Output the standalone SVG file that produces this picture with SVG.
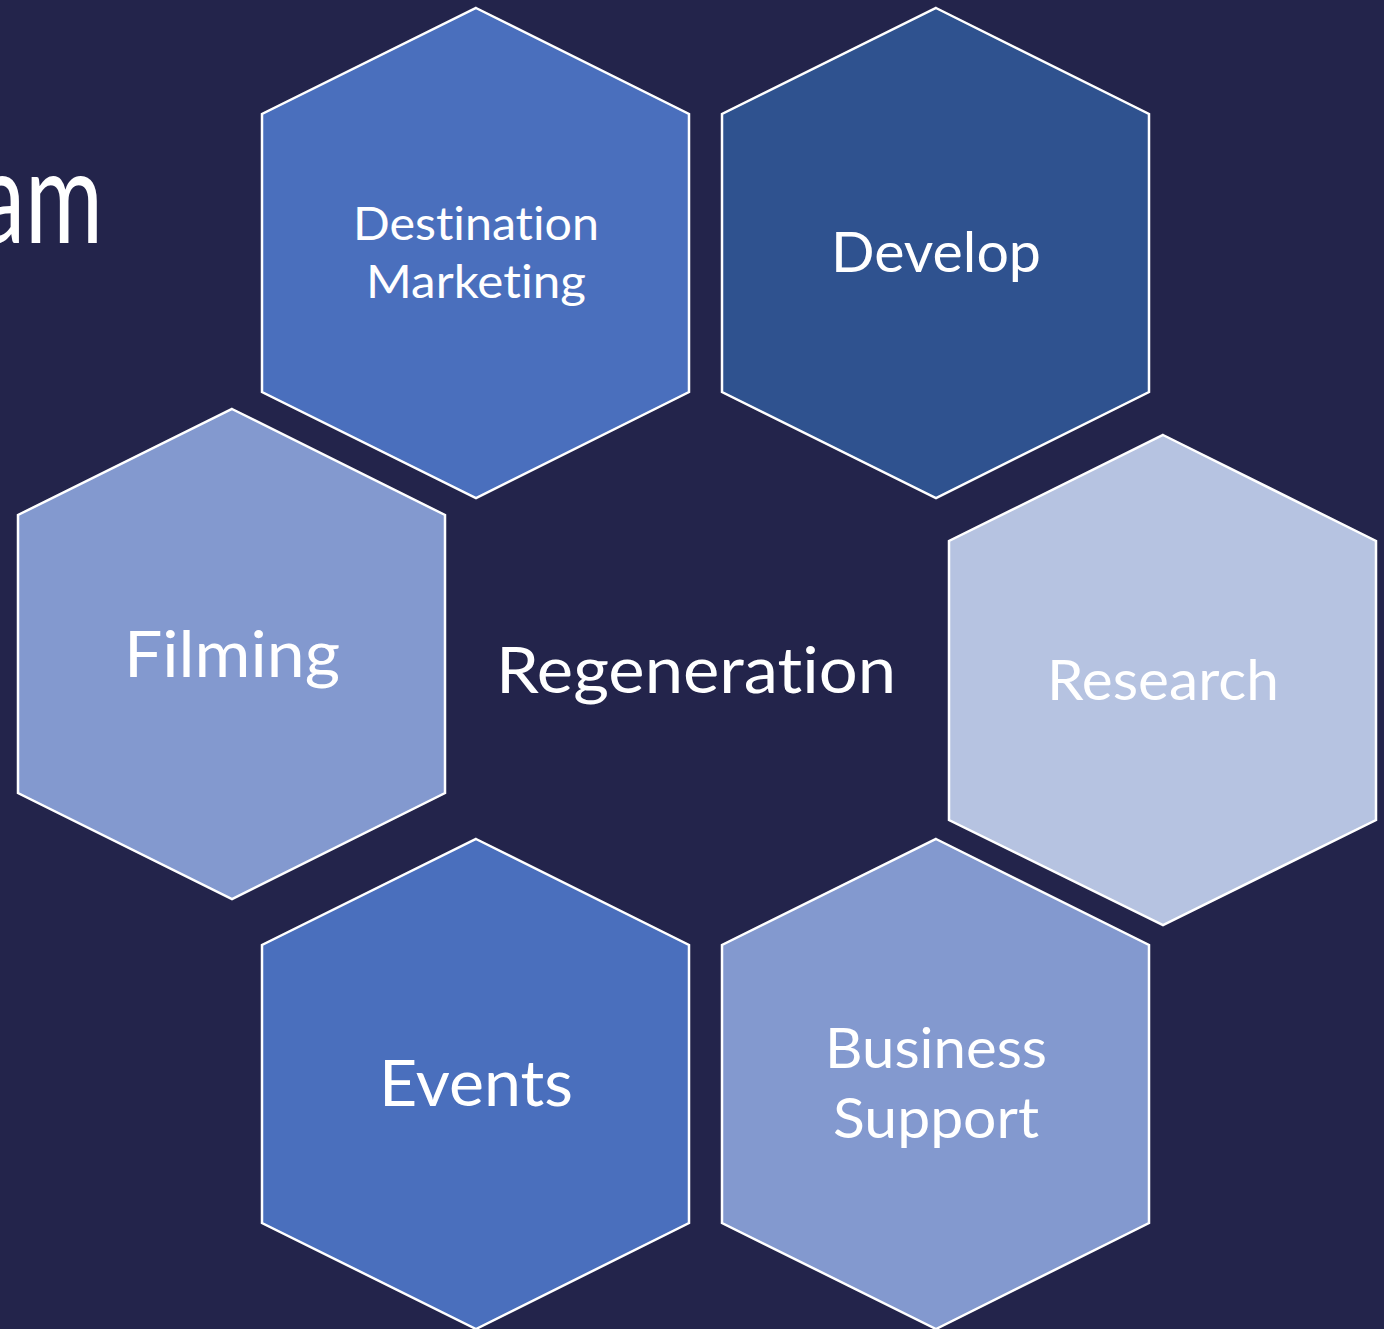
<svg xmlns="http://www.w3.org/2000/svg" width="1384" height="1329" viewBox="0 0 1384 1329">
<style>
.hex{stroke:#FFFFFF;stroke-width:2.5;stroke-linejoin:miter}
.t{font-family:Lato,"Open Sans","Liberation Sans",sans-serif;fill:#FFFFFF;text-anchor:middle;font-variant-ligatures:none;font-feature-settings:"liga" 0,"dlig" 0}
</style>
<rect x="0" y="0" width="1384" height="1329" fill="#23244B"/>
<text x="103" y="243" font-family="Lato,'Open Sans','Liberation Sans',sans-serif" font-size="130" fill="#FFFFFF" text-anchor="end" textLength="125" lengthAdjust="spacingAndGlyphs">am</text>
<g id="destination-marketing">
<polygon class="hex" fill="#4A6FBD" points="476,8 689,114 689,392 476,498 262,392 262,114"/>
<text class="t" x="476" y="240" font-size="46" textLength="246" lengthAdjust="spacingAndGlyphs">Destination</text>
<text class="t" x="476" y="298" font-size="46" textLength="220" lengthAdjust="spacingAndGlyphs">Marketing</text>
</g>
<g id="develop">
<polygon class="hex" fill="#2F528F" points="936,8 1149,114 1149,392 936,498 722,392 722,114"/>
<text class="t" x="936" y="272" font-size="56" textLength="210" lengthAdjust="spacingAndGlyphs">Develop</text>
</g>
<g id="filming">
<polygon class="hex" fill="#8399CF" points="232,409 445,515 445,793 232,899 18,793 18,515"/>
<text class="t" x="232" y="677" font-size="64" textLength="216" lengthAdjust="spacingAndGlyphs">Filming</text>
</g>
<g id="regeneration">
<text class="t" x="696" y="693" font-size="64" textLength="400" lengthAdjust="spacingAndGlyphs">Regeneration</text>
</g>
<g id="research">
<polygon class="hex" fill="#B6C3E1" points="1163,435 1376,541 1376,820 1163,925 949,820 949,541"/>
<text class="t" x="1163" y="700" font-size="56" textLength="232" lengthAdjust="spacingAndGlyphs">Research</text>
</g>
<g id="events">
<polygon class="hex" fill="#4A6FBD" points="476,839 689,945 689,1223 476,1329 262,1223 262,945"/>
<text class="t" x="476" y="1106" font-size="64" textLength="194" lengthAdjust="spacingAndGlyphs">Events</text>
</g>
<g id="business-support">
<polygon class="hex" fill="#8399CF" points="936,839 1149,945 1149,1223 936,1329 722,1223 722,945"/>
<text class="t" x="936" y="1068" font-size="56" textLength="222" lengthAdjust="spacingAndGlyphs">Business</text>
<text class="t" x="936" y="1138" font-size="56" textLength="206" lengthAdjust="spacingAndGlyphs">Support</text>
</g>
<g id="connectors"/>
</svg>
